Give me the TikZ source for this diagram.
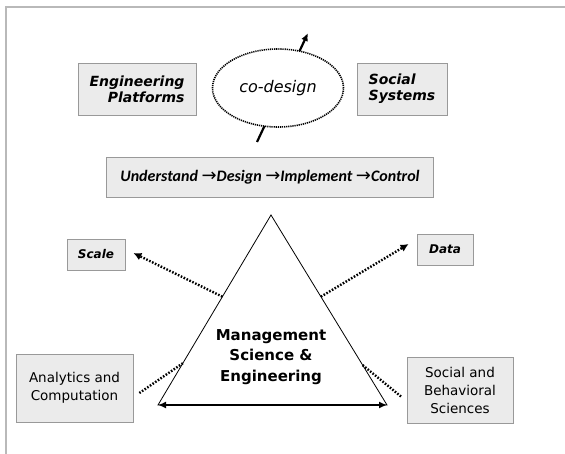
\documentclass[tikz,border=0pt]{standalone}
\usepackage{fontspec}
\setmainfont{DejaVu Sans}
\newfontfamily\calfont{Carlito}
\usepackage{tikz}
\usepackage{xcolor}
\usetikzlibrary{shapes,arrows,arrows.meta,positioning,calc}

\definecolor{boxgray}{HTML}{EBEBEB}
\definecolor{edgegray}{HTML}{999999}

\newcommand{\nextstep}{{\normalfont\fontsize{18}{18}\selectfont→}}

\begin{document}
\begin{tikzpicture}[x=1pt, y=-1pt,
        topic/.style={rectangle, draw=edgegray, fill=boxgray, line width=0.8pt,
                      font=\fontsize{14}{16}\selectfont\bfseries\itshape, inner sep=0pt},
        field/.style={rectangle, draw=edgegray, fill=boxgray, line width=0.8pt,
                      font=\fontsize{13.5}{18}\selectfont, align=center, inner sep=0pt},
        link/.style={line width=2.4pt, dash pattern=on 1.6pt off 1.6pt},
        tip/.style={-{Latex[length=8pt, width=8pt]}},
        line/.style={thick}
    ]
        \useasboundingbox (0,0) rectangle (565,454);

        % Frame
        \draw[gray!55, line width=1.5pt] (565,7) -- (6,7) -- (6,454);

        % co-design arrow, hidden behind the ellipse
        \coordinate (cdtail) at (257,142);
        \coordinate (cdhead) at (308,33);
        \draw[-{Latex[length=8pt, width=7pt]}, line width=2.2pt] (cdtail) -- (cdhead);
        \node[ellipse, draw, fill=white, line width=1.6pt, dash pattern=on 1.2pt off 0.9pt,
              minimum width=131pt, minimum height=78pt,
              font=\fontsize{16}{18}\selectfont\itshape] (codesign) at (278,88) {co-design};

        % Top boxes
        \node[topic, minimum width=118pt, minimum height=52pt, align=right] (eng) at (137,89)
            {Engineering\\Platforms};
        \node[topic, minimum width=90pt, minimum height=52pt, align=left] (soc) at (402,89)
            {Social\\Systems};
        \node[topic, minimum width=327pt, minimum height=40pt,
              font=\fontsize{16}{18}\selectfont\calfont\bfseries\itshape] (cycle) at (270,177)
            {Understand \nextstep Design \nextstep Implement \nextstep Control};

        % Triangle
        \coordinate (apex) at (271,215);
        \coordinate (bl) at (158,405);
        \coordinate (br) at (387,405);
        \draw[fill=white, line width=0.8pt] (apex) -- (bl) -- (br) -- cycle;
        \draw[{Latex[length=8pt, width=7pt]}-{Latex[length=8pt, width=7pt]}, line width=1.8pt]
            (bl) -- (br);
        \node[font=\fontsize{15}{20.5}\selectfont\bfseries, align=center] (mse) at (271,357)
            {Management\\Science \&\\Engineering};

        % Side boxes
        \node[topic, font=\fontsize{12}{14}\selectfont\bfseries\itshape,
              minimum width=58pt, minimum height=31pt] (scale) at (96,254.5) {Scale};
        \node[topic, font=\fontsize{12}{14}\selectfont\bfseries\itshape,
              minimum width=56pt, minimum height=31pt] (data) at (445,249.5) {Data};
        \node[field, minimum width=117pt, minimum height=68pt] (ana) at (74.5,388)
            {Analytics and\\Computation};
        \node[field, minimum width=106pt, minimum height=66pt] (sbs) at (460,390)
            {Social and\\Behavioral\\Sciences};

        % Dotted links
        \coordinate (lt) at ($(apex)!0.43!(bl)$);
        \coordinate (rt) at ($(apex)!0.43!(br)$);
        \coordinate (lb) at ($(apex)!0.78!(bl)$);
        \coordinate (rb) at ($(apex)!0.79!(br)$);
        \draw[link, tip] (lt) -- ([xshift=8pt, yshift=1.5pt]scale.east);
        \draw[link, tip] (rt) -- ([xshift=-8pt, yshift=5.5pt]data.west);
        \draw[link] (lb) -- ([xshift=6pt, yshift=-5pt]ana.east);
        \draw[link] (rb) -- ([xshift=-5pt, yshift=-7pt]sbs.west);
    \end{tikzpicture}
\end{document}
